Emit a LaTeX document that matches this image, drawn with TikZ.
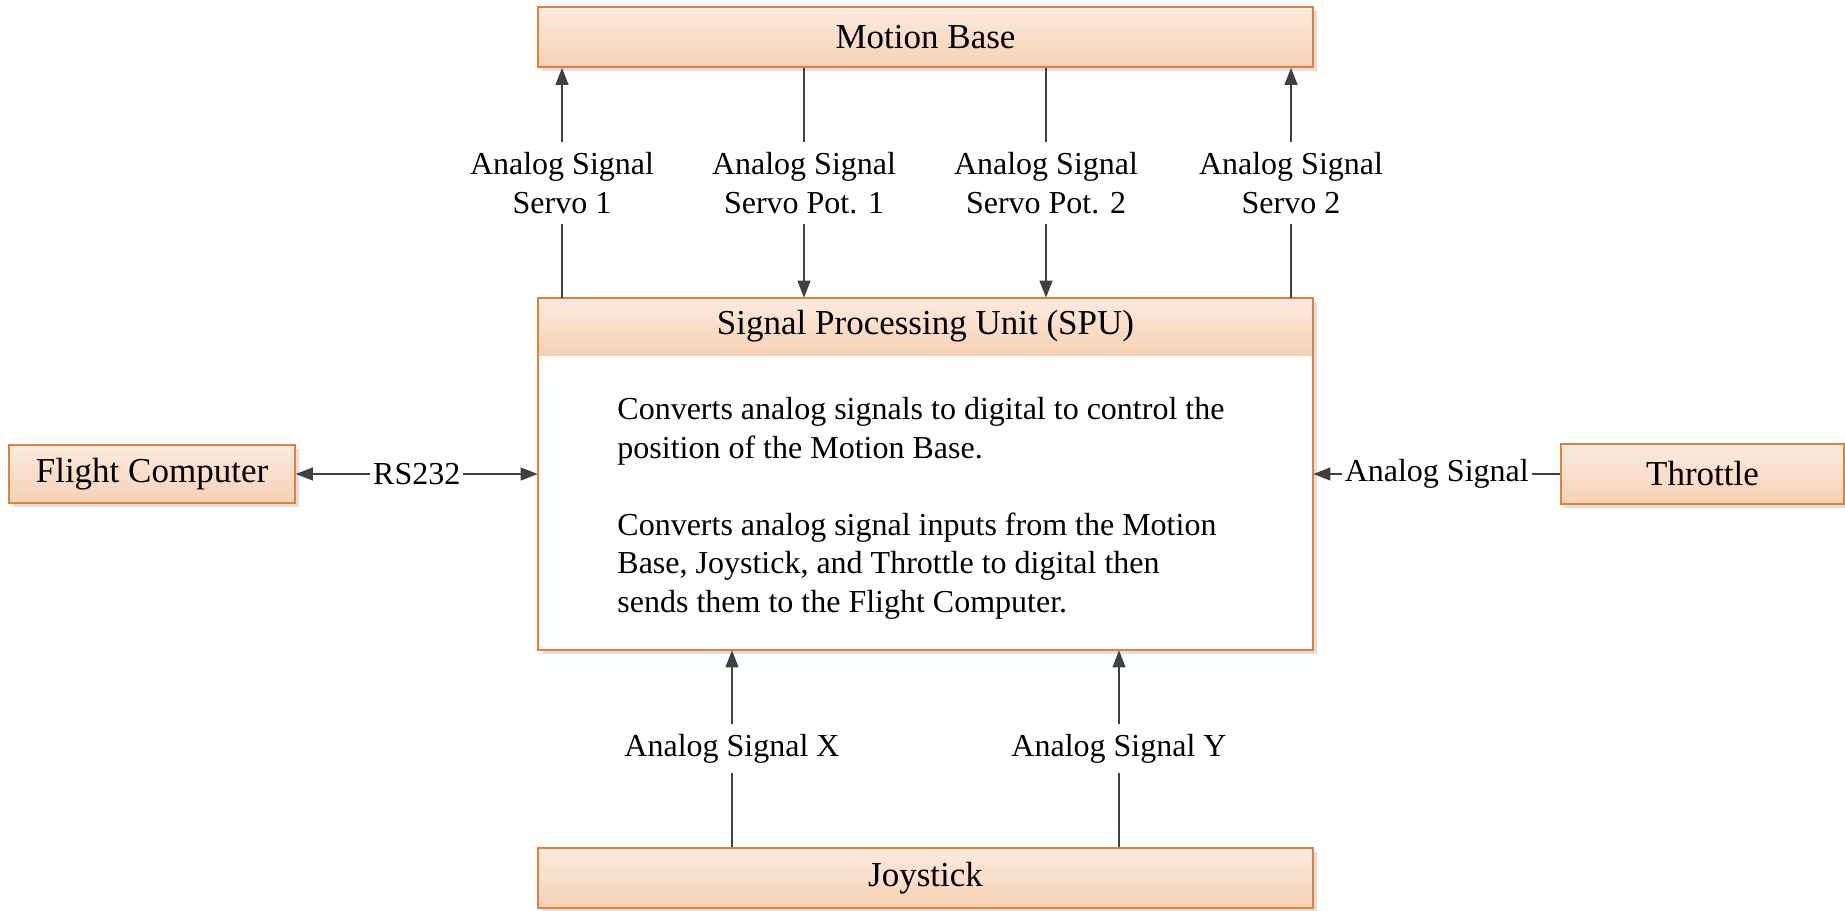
\documentclass[tikz,border=0pt]{standalone}
\usepackage{fontspec}
\setmainfont{Liberation Serif}
\usetikzlibrary{arrows.meta,shadows}

\definecolor{boxedge}{HTML}{E0803A}
\definecolor{boxtop}{HTML}{FCEBDF}
\definecolor{boxbot}{HTML}{F6D1B4}
\definecolor{wire}{HTML}{404040}

\tikzset{
  unit/.style={draw=boxedge, line width=0.9pt, top color=boxtop, bottom color=boxbot,
    inner sep=0pt, font=\fontsize{17.5}{21}\selectfont,
    drop shadow={shadow xshift=1.8pt, shadow yshift=-1.8pt, opacity=0.25, fill=gray}},
  headband/.style={top color=boxtop, bottom color=boxbot, inner sep=0pt,
    font=\fontsize{17.5}{21}\selectfont},
  tip/.tip={Triangle[length=8.5pt,width=6.5pt]},
  conn/.style={draw=wire, line width=0.65pt, -tip},
  conn2/.style={draw=wire, line width=0.65pt, tip-tip},
  lbl/.style={fill=white, inner xsep=1.5pt, inner ysep=5pt, align=center,
    font=\fontsize{16}{19.5}\selectfont},
}

\begin{document}
\begin{tikzpicture}[x=0.5pt, y=-0.5pt]
  \useasboundingbox (0,0) rectangle (1845,910);

  % outer units
  \node[unit, minimum width=387.5pt, minimum height=30pt] (mb) at (925.5,37) {Motion Base};
  \node[unit, minimum width=143pt, minimum height=29pt] (fc) at (152,474) {Flight Computer};
  \node[unit, minimum width=141.5pt, minimum height=30pt] (thr) at (1702.5,474) {Throttle};
  \node[unit, minimum width=387.5pt, minimum height=30pt] (joy) at (925.5,878) {Joystick};

  % signal processing unit: white body, shaded title band, border on top
  \node[fill=white, inner sep=0pt, minimum width=387.5pt, minimum height=176pt,
    drop shadow={shadow xshift=1.8pt, shadow yshift=-1.8pt, opacity=0.25, fill=gray}]
    (spu) at (925.5,474) {};
  \node[headband, minimum width=387.5pt, minimum height=28.5pt] (spuhead) at (925.5,326.5)
    {Signal Processing Unit (SPU)};
  \draw[boxedge, line width=1pt] (spu.north west) rectangle (spu.south east);

  \node[anchor=north west, inner sep=0pt, align=left,
    font=\fontsize{16}{19.25}\selectfont] (desc) at (617,397)
    {Converts analog signals to digital to control the\\
     position of the Motion Base.\\[19.25pt]
     Converts analog signal inputs from the Motion\\
     Base, Joystick, and Throttle to digital then\\
     sends them to the Flight Computer.};

  % wire positions
  \coordinate (s1) at (562,0);
  \coordinate (p1) at (804,0);
  \coordinate (p2) at (1046,0);
  \coordinate (s2) at (1291,0);
  \coordinate (jx) at (732,0);
  \coordinate (jy) at (1119,0);

  % motion base links
  \draw[conn] (s1 |- spu.north) -- node[lbl] {Analog Signal\\Servo 1} (s1 |- mb.south);
  \draw[conn] (p1 |- mb.south) -- node[lbl] {Analog Signal\\Servo Pot. 1} (p1 |- spu.north);
  \draw[conn] (p2 |- mb.south) -- node[lbl] {Analog Signal\\Servo Pot. 2} (p2 |- spu.north);
  \draw[conn] (s2 |- spu.north) -- node[lbl] {Analog Signal\\Servo 2} (s2 |- mb.south);

  % joystick links
  \draw[conn] (jx |- joy.north) -- node[lbl] {Analog Signal X} (jx |- spu.south);
  \draw[conn] (jy |- joy.north) -- node[lbl] {Analog Signal Y} (jy |- spu.south);

  % side links
  \draw[conn2] (fc.east) -- node[lbl, inner ysep=3pt] {RS232} (fc.east -| spu.west);
  \draw[conn] (thr.west) -- node[lbl, inner ysep=3pt] {Analog Signal} (thr.west -| spu.east);
\end{tikzpicture}
\end{document}
